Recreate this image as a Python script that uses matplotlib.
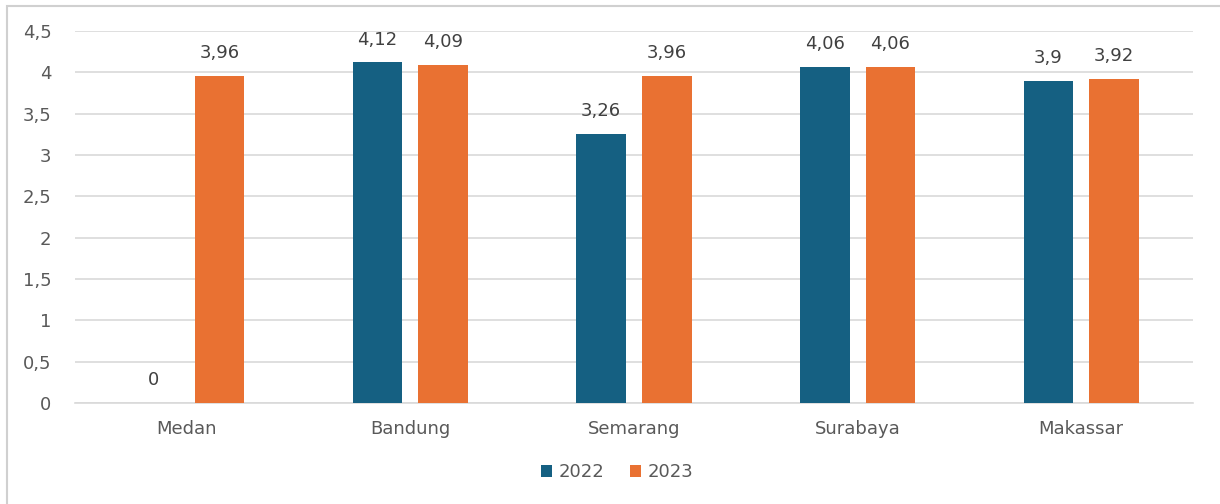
import matplotlib
matplotlib.use("Agg")
import matplotlib.pyplot as plt
from matplotlib.patches import Rectangle
import numpy as np

categories = ["Medan", "Bandung", "Semarang", "Surabaya", "Makassar"]
series_names = ["2022", "2023"]
values_2022 = [0, 4.12, 3.26, 4.06, 3.9]
values_2023 = [3.96, 4.09, 3.96, 4.06, 3.92]
label_2022 = ["0", "4,12", "3,26", "4,06", "3,9"]
label_2023 = ["3,96", "4,09", "3,96", "4,06", "3,92"]
yticks = [0, 0.5, 1, 1.5, 2, 2.5, 3, 3.5, 4, 4.5]
ytick_labels = ["0", "0,5", "1", "1,5", "2", "2,5", "3", "3,5", "4", "4,5"]

plt.rcParams['font.family'] = ['DejaVu Sans']
TXT = "#595959"
C22 = "#156082"
C23 = "#E97132"
FS = 13

fig = plt.figure(figsize=(12.2, 5.04), dpi=100)
ax = fig.add_axes([75/1220, 1 - 403/504, 1118/1220, (403 - 31)/504])

x = np.arange(len(categories))
w = 0.222
off = 0.147
b1 = ax.bar(x - off, values_2022, w, color=C22, label=series_names[0], zorder=3)
b2 = ax.bar(x + off, values_2023, w, color=C23, label=series_names[1], zorder=3)

for bars, labs in ((b1, label_2022), (b2, label_2023)):
    for rect, lab in zip(bars, labs):
        ax.annotate(lab, (rect.get_x() + rect.get_width() / 2, rect.get_height()),
                    xytext=(0, 10), textcoords="offset points", ha="center", va="bottom",
                    fontsize=FS, color="#404040")

ax.set_xlim(-0.5, len(categories) - 0.5)
ax.set_ylim(0, 4.5)
ax.set_yticks(yticks)
ax.set_yticklabels(ytick_labels, fontsize=FS, color=TXT)
ax.set_xticks(x)
ax.set_xticklabels(categories, fontsize=FS, color=TXT)
ax.tick_params(axis="y", length=0, pad=17)
ax.tick_params(axis="x", length=0, pad=12)
ax.yaxis.grid(True, color="#d9d9d9", linewidth=1.2, zorder=0)
ax.set_axisbelow(True)
for s in ["top", "right", "left"]:
    ax.spines[s].set_visible(False)
ax.spines["bottom"].set_color("#d9d9d9")
ax.spines["bottom"].set_linewidth(1.2)

leg = fig.legend(handles=[b1, b2], labels=series_names, loc="center",
                 bbox_to_anchor=(617/1220, 1 - 472/504), ncol=2, frameon=False,
                 fontsize=FS, handlelength=0.65, handleheight=0.65, columnspacing=1.4,
                 handletextpad=0.35)
for t in leg.get_texts():
    t.set_color(TXT)

fig.patches.append(Rectangle((7/1220, -0.01), 1.0, 1 - 6/504 + 0.01, transform=fig.transFigure,
                             fill=False, edgecolor="#d0d0d0", linewidth=1.5))

fig.savefig("out.png", dpi=100)
